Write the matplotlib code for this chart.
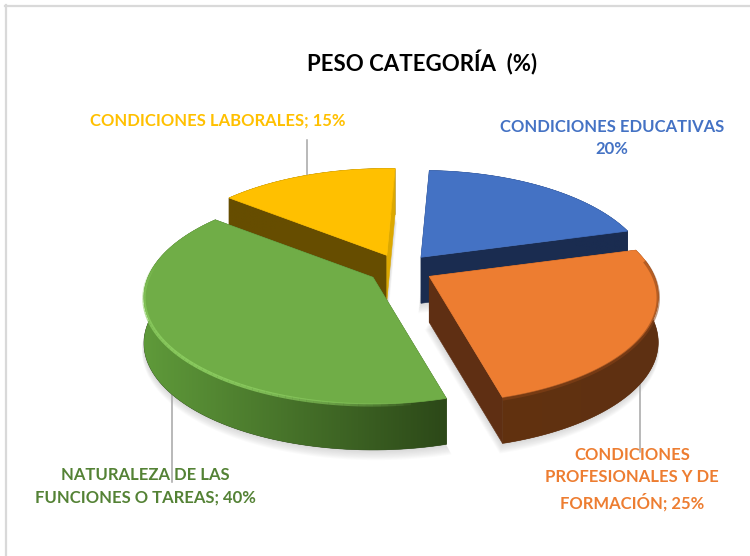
#!/usr/bin/env python3
import matplotlib
matplotlib.use("Agg")
import matplotlib.pyplot as plt
from matplotlib.colors import LinearSegmentedColormap
from matplotlib.patches import Polygon
import numpy as np

plt.rcParams["font.family"] = ["Lato", "DejaVu Sans"]

title = "PESO CATEGORÍA  (%)"
categories = ["CONDICIONES EDUCATIVAS", "CONDICIONES PROFESIONALES Y DE FORMACIÓN",
              "NATURALEZA DE LAS FUNCIONES O TAREAS", "CONDICIONES LABORALES"]
values = [20, 25, 40, 15]
label_texts = ["CONDICIONES EDUCATIVAS\n20%", "CONDICIONES\nPROFESIONALES Y DE\nFORMACIÓN; 25%",
               "NATURALEZA DE LAS\nFUNCIONES O TAREAS; 40%", "CONDICIONES LABORALES; 15%"]

top_colors = ["#4472C4", "#ED7D31", "#70AD47", "#FFC000"]
start_face = ["#1A2C50", "#5F2F13", "#2E4A1A", "#664D00"]
end_face = ["#1A2C50", "#5F2F13", "#2E4A1A", "#DCA800"]
wall_left = ["#1A2C50", "#62320F", "#5F9A3A", "#664D00"]
wall_right = ["#1A2C50", "#5E3013", "#2C4818", "#664D00"]
text_colors = ["#4472C4", "#ED7D31", "#548235", "#FFC000"]
label_pos = [(612, 138), (632, 479), (145, 486), (218, 121)]
leaders = [None, (640, 380, 452), (172, 385, 482), (307, 140, 180)]

CENTER = (400.5, 269)
RX, RY, PERSP = 225, 103, 0.187
EX, EY = 33, 15
DEPTH = 46
START = 2.5


def project(apex, theta):
    s, c = np.sin(np.radians(theta)), np.cos(np.radians(theta))
    p = 1 / (1 + PERSP * c)
    return apex[0] + RX * s * p, apex[1] - RY * c * p


def arc(apex, t0, t1, n=90):
    t = np.linspace(t0, t1, n)
    x, y = project(apex, t)
    return np.column_stack([x, y])


fig = plt.figure(figsize=(7.5, 5.56), dpi=100)
ax = fig.add_axes([0, 0, 1, 1])
ax.set_xlim(0, 750)
ax.set_ylim(556, 0)
ax.axis("off")

ax.plot([5.5, 5.5], [5, 556], color="#D9D9D9", lw=1.6)
ax.plot([5, 750], [5.5, 5.5], color="#D9D9D9", lw=1.6)

edges = START + np.cumsum([0] + values) * 3.6
slices = []
for i in range(len(values)):
    t0, t1 = edges[i], edges[i + 1]
    mid = np.radians((t0 + t1) / 2)
    apex = (CENTER[0] + EX * np.sin(mid), CENTER[1] - EY * np.cos(mid))
    slices.append((t0, t1, apex))

# soft shadow under the slices
for t0, t1, apex in slices:
    pts = np.vstack([[apex], arc(apex, t0, t1)])
    for grow in np.linspace(12, 1, 9):
        shadow = pts + [0, DEPTH + grow * 0.7]
        shadow = shadow + (shadow - shadow.mean(axis=0)) * grow * 0.002
        ax.add_patch(Polygon(shadow, closed=True, fc="#808080", ec="none", alpha=0.035, zorder=1))

for seg in leaders:
    if seg:
        ax.plot([seg[0], seg[0]], [seg[1], seg[2]], color="#A6A6A6", lw=1.1, zorder=1.5)

# back to front: yellow, blue, orange, green
for order, i in enumerate([3, 0, 1, 2]):
    t0, t1, apex = slices[i]
    base = 2 + order * 5
    a0 = np.array(project(apex, t0))
    a1 = np.array(project(apex, t1))
    ap = np.array(apex)
    down = np.array([0, DEPTH])

    # flat cut faces, the lit yellow sliver has to sit over its wall
    end_z = base + 1.8 if i == 3 else base
    ax.add_patch(Polygon([a1, ap, ap + down, a1 + down], closed=True,
                         fc=end_face[i], ec=end_face[i], lw=0.4, zorder=end_z))
    ax.add_patch(Polygon([a0, ap, ap + down, a0 + down], closed=True,
                         fc=start_face[i], ec=start_face[i], lw=0.4, zorder=base))

    # outer wall, shaded from left to right
    rim = arc(apex, t0, t1)
    wall = Polygon(np.vstack([rim, rim[::-1] + down]), closed=True, fc=wall_right[i],
                   ec=wall_right[i], lw=0.4, zorder=base + 1)
    ax.add_patch(wall)
    xmin, xmax = rim[:, 0].min(), rim[:, 0].max()
    ymin, ymax = rim[:, 1].min(), rim[:, 1].max() + DEPTH
    cmap = LinearSegmentedColormap.from_list("wall", [wall_left[i], wall_right[i]])
    image = ax.imshow(np.linspace(0, 1, 256)[None, :], extent=[xmin, xmax, ymax, ymin], cmap=cmap,
                      aspect="auto", zorder=base + 1.5, interpolation="bilinear")
    image.set_clip_path(wall)

    # top face
    ax.add_patch(Polygon(np.vstack([[apex], rim]), closed=True, fc=top_colors[i],
                         ec=top_colors[i], lw=0.5, zorder=base + 2))

    # bevel along the outer edge
    if i == 1:
        edge = arc(apex, t0 + 6, t1, 60)
        ax.plot(edge[:, 0], edge[:, 1] + 1.5, color="#8A4418", lw=2.4, alpha=0.55,
                solid_capstyle="butt", zorder=base + 3)
    if i == 2:
        edge = arc(apex, t0 + 6, t1 - 30, 70)
        fade = np.sin(np.linspace(0, np.pi, len(edge) - 1)) ** 0.7
        for j in range(len(edge) - 1):
            ax.plot(edge[j:j + 2, 0], edge[j:j + 2, 1] + 1, color="#8FD163", lw=2.4,
                    alpha=0.85 * fade[j], solid_capstyle="butt", zorder=base + 3)

ax.set_xlim(0, 750)
ax.set_ylim(556, 0)

ax.text(422, 63, title, ha="center", va="center", fontsize=16, fontweight="bold",
        color="black", zorder=40)
for text, pos, col in zip(label_texts, label_pos, text_colors):
    ax.text(pos[0], pos[1], text, ha="center", va="center", fontsize=12, fontweight="bold",
            color=col, linespacing=1.5, zorder=40)

fig.savefig("out.png", dpi=100)
